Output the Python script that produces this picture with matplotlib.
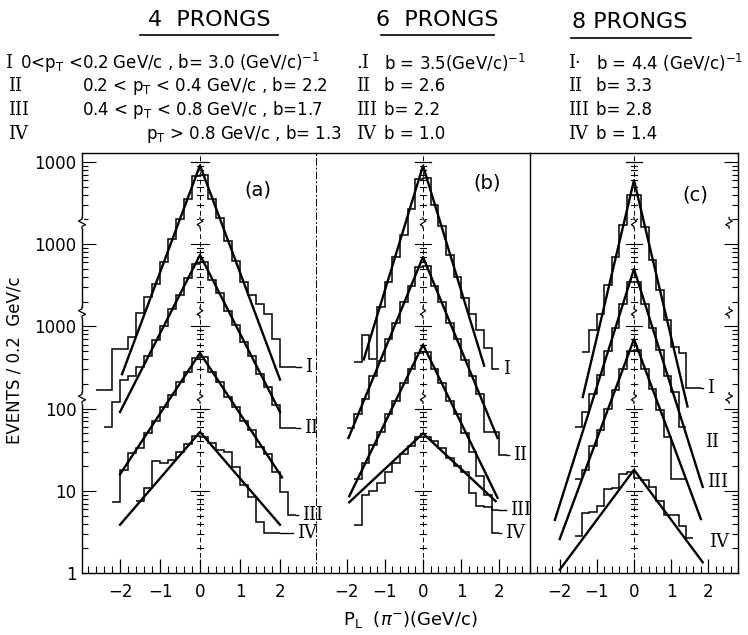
import numpy as np
import matplotlib
matplotlib.use('Agg')
import matplotlib.pyplot as plt
from matplotlib.ticker import FixedLocator, LogLocator, NullFormatter
from matplotlib.lines import Line2D

plt.rcParams['font.family'] = ['DejaVu Sans']
plt.rcParams['mathtext.fontset'] = 'dejavusans'

classes = ['I', 'II', 'III', 'IV']
panel_tags = ['(a)', '(b)', '(c)']

# fitted slopes b in (GeV/c)^-1, p_T classes I..IV
slope_4 = [3.0, 2.2, 1.7, 1.3]
slope_6 = [3.5, 2.6, 2.2, 1.0]
slope_8 = [4.4, 3.3, 2.8, 1.4]

# fitted height at p_L = 0 (stacked scale as plotted)
peak_4 = [91000, 7400, 475, 52]
peak_6 = [90000, 7000, 600, 50]
peak_8 = [60000, 5000, 700, 18]

# p_L range of each fitted line
reach_4 = [(-1.95, 2.0), (-2.0, 2.0), (-2.0, 2.05), (-2.0, 2.0)]
reach_6 = [(-1.55, 1.6), (-1.95, 1.95), (-1.93, 1.95), (-1.93, 1.9)]
reach_8 = [(-1.38, 1.44), (-2.13, 1.85), (-2.0, 1.8), (-2.0, 1.85)]

# histograms: first bin edge, then events per 0.2 GeV/c bin (stacked scale)
start_4 = [-2.6, -2.4, -2.2, -1.6]
hist_4 = [
    [168, 168, 530, 530, 745, 1450, 2300, 3300, 6000, 11500, 20000, 36000, 68000,
     70000, 36000, 21000, 11000, 6300, 3500, 2400, 1900, 1400, 700, 320, 320],
    [60, 120, 220, 250, 320, 440, 680, 1000, 1650, 2400, 3900, 5800,
     6000, 3700, 2550, 1550, 1050, 640, 440, 265, 185, 110, 58, 58],
    [7.3, 18, 29, 33, 50, 70, 105, 145, 210, 280, 410,
     420, 280, 210, 140, 105, 70, 55, 34, 28, 17, 9.6, 5.1],
    [7.5, 10.8, 23, 22, 24, 30, 37, 47,
     45, 38, 31, 30, 19.5, 11.8, 8.4, 4.2, 3.1, 3.1],
]
start_6 = [-1.8, -2.0, -1.8, -1.8]
hist_6 = [
    [370, 790, 400, 1700, 3500, 7000, 13000, 27000, 62000,
     64000, 30000, 16500, 7500, 4000, 2200, 1400, 900, 550, 300],
    [58, 85, 130, 250, 380, 700, 1100, 2000, 3100, 5300,
     5500, 3100, 2000, 1100, 700, 390, 250, 150, 52, 52, 27],
    [14, 22, 36, 52, 85, 125, 205, 300, 470,
     490, 300, 205, 125, 85, 50, 30, 15, 9, 5.8],
    [3.8, 9, 10, 12.5, 17, 22, 28, 35, 45,
     45, 40, 33, 25, 20, 17, 9.5, 6.5, 6.3, 3.1],
]
start_8 = [-1.4, -1.6, -1.6, -1.6]
hist_8 = [
    [490, 900, 1400, 3200, 7000, 17000, 40000,
     40000, 16000, 6500, 2800, 1200, 560, 480, 177, 177],
    [60, 90, 150, 260, 500, 950, 1850, 3500,
     3500, 1900, 950, 520, 250, 160, 60],
    [14, 18, 35, 55, 100, 170, 300, 500,
     520, 300, 175, 95, 45, 14, 14],
    [2.8, 5.4, 5.5, 6.5, 10.5, 10.8, 16, 17,
     14.5, 13.5, 11, 7.5, 5.1, 5.1, 3.7, 2.7],
]

panels = [
    (slope_4, peak_4, reach_4, start_4, hist_4),
    (slope_6, peak_6, reach_6, start_6, hist_6),
    (slope_8, peak_8, reach_8, start_8, hist_8),
]

# where the class labels sit, and whether a lead line joins them
tag_pos = [
    [(2.62, 320), (2.6, 58), (2.55, 5.1), (2.42, 3.1)],
    [(2.1, 300), (2.35, 27), (2.28, 5.8), (2.15, 3.1)],
    [(1.97, 177), (1.9, 39), (1.98, 12.8), (2.02, 2.4)],
]
tag_lead = [[True, True, True, True], [True, True, True, True], [True, False, False, False]]

W, H = 748, 635
fig = plt.figure(figsize=(W / 100, H / 100), dpi=100)
top_px, bot_px = 153, 573
edges_px = [82, 316, 530, 738]
xlims = [(-2.95, 2.9), (-2.58, 2.58), (-2.71, 2.56)]
breaks = [10 ** 2.13, 10 ** 3.17, 10 ** 4.26]

axes = []
for i in range(3):
    ax = fig.add_axes([edges_px[i] / W, 1 - bot_px / H,
                       (edges_px[i + 1] - edges_px[i]) / W, (bot_px - top_px) / H],
                      sharey=axes[0] if axes else None)
    ax.set_facecolor('none')
    axes.append(ax)

ax0 = axes[0]
ax0.set_yscale('log')
ax0.set_ylim(1, 10 ** 5.11)
ax0.yaxis.set_major_locator(FixedLocator([1, 10, 100, 1e3, 1e4, 1e5]))
ax0.yaxis.set_minor_locator(LogLocator(base=10, subs=np.arange(2, 10)))
ax0.yaxis.set_minor_formatter(NullFormatter())
ax0.set_yticklabels(['1', '10', '100', '1000', '1000', '1000'])


def zigzag(ax, x, v, dx):
    f = 10 ** 0.022
    ax.plot([x, x], [v / f ** 2, v * f ** 2], color='white', lw=2.5, clip_on=False, zorder=5)
    ax.plot([x, x, x - dx, x + dx, x, x], [v / f ** 3, v / f ** 2, v / f, v * f, v * f ** 2, v * f ** 3],
            color='k', lw=0.9, clip_on=False, zorder=6)


for i, ax in enumerate(axes):
    slope, peak, reach, start, hist = panels[i]
    ax.set_xlim(*xlims[i])
    ax.set_xticks([-2, -1, 0, 1, 2])
    ax.set_xticks(np.arange(-2.8, 2.81, 0.2), minor=True)
    ax.tick_params(axis='x', which='both', direction='in', top=False, labelsize=12, pad=7)
    ax.tick_params(axis='x', which='major', length=10, width=0.9)
    ax.tick_params(axis='x', which='minor', length=5, width=0.8)
    ax.tick_params(axis='y', which='both', direction='in', width=0.8, labelsize=12, pad=4)
    ax.tick_params(axis='y', which='major', length=10)
    ax.tick_params(axis='y', which='minor', length=4)
    for s in ax.spines.values():
        s.set_linewidth(1.0)

    # centre scale at p_L = 0
    ax.axvline(0, color='k', lw=0.7, ls=(0, (5, 3)))
    for n in range(0, 5):
        for m in range(1, 10):
            v = m * 10 ** n
            w = 0.22 if (m == 1 and n > 0) else 0.07
            ax.plot([-w, w], [v, v], color='k', lw=0.8)
    ax.plot([-0.22, 0.22], [1e5, 1e5], color='k', lw=0.9)
    for v in breaks:
        zigzag(ax, 0, v, 0.07)

    for k in range(4):
        edges = start[k] + 0.2 * np.arange(len(hist[k]) + 1)
        ax.stairs(hist[k], edges, baseline=None, color='k', lw=1.1)
        xs = np.array([reach[k][0], 0.0, reach[k][1]])
        ax.plot(xs, peak[k] * np.exp(-slope[k] * np.abs(xs)), color='k', lw=1.7)
        tx, ty = tag_pos[i][k]
        if tag_lead[i][k]:
            ax.plot([edges[-1], tx - 0.1], [hist[k][-1]] * 2, color='k', lw=1.0)
        ax.text(tx, ty, classes[k], family='DejaVu Serif', fontsize=13, va='center', ha='left')

axes[0].spines['right'].set_visible(False)
axes[1].spines['left'].set_linestyle((0, (7, 3, 1, 3)))
axes[1].spines['left'].set_linewidth(0.7)
axes[1].spines['right'].set_visible(False)
for ax in axes[1:]:
    ax.tick_params(axis='y', which='both', left=False, labelleft=False)
axes[2].tick_params(axis='y', which='both', right=True, labelright=False)

for v in breaks:
    zigzag(axes[0], xlims[0][0], v, -0.09)
    zigzag(axes[2], xlims[2][1], v, 0.09)

tag_xy = [(258, 190), (487, 183), (695, 195)]
for i, (px, py) in enumerate(tag_xy):
    fig.text(px / W, 1 - py / H, panel_tags[i], fontsize=14, ha='center', va='center')


# header
def ftext(x, y, s, **kw):
    kw.setdefault('fontsize', 12)
    fig.text(x / W, 1 - y / H, s, va='center', **kw)


pt = r'$\mathrm{p}_{\mathrm{T}}$'
inv = r'(GeV/c)$^{-1}$'
ftext(209, 20, '4  PRONGS', ha='center', fontsize=16)
ftext(437, 20, '6  PRONGS', ha='center', fontsize=16)
ftext(630, 22, '8 PRONGS', ha='center', fontsize=16)
for (x0, x1, y) in [(140, 278, 35), (381, 494, 35), (571, 691, 38)]:
    fig.add_artist(Line2D([x0 / W, x1 / W], [1 - y / H] * 2, color='k', lw=1.2))

roman = {'family': 'DejaVu Serif', 'fontsize': 13}
rows_y = [63, 86, 110, 134]
ftext(5, rows_y[0], 'I', **roman)
ftext(20, rows_y[0], '0<' + pt + ' <0.2 GeV/c , b= 3.0 ' + inv)
ftext(8, rows_y[1], 'II', **roman)
ftext(82, rows_y[1], '0.2 < ' + pt + ' < 0.4 GeV/c , b= 2.2')
ftext(8, rows_y[2], 'III', **roman)
ftext(82, rows_y[2], '0.4 < ' + pt + ' < 0.8 GeV/c , b=1.7')
ftext(8, rows_y[3], 'IV', **roman)
ftext(146, rows_y[3], pt + ' > 0.8 GeV/c , b= 1.3')

six = ['b = 3.5' + inv, 'b = 2.6', 'b= 2.2', 'b = 1.0']
eight = ['b = 4.4 ' + inv, 'b= 3.3', 'b= 2.8', 'b = 1.4']
six_num = ['.I', 'II', 'III', 'IV']
eight_num = ['I·', 'II', 'III', 'IV']
for r in range(4):
    ftext(356, rows_y[r], six_num[r], **roman)
    ftext(384, rows_y[r], six[r])
    ftext(568, rows_y[r], eight_num[r], **roman)
    ftext(596, rows_y[r], eight[r])

fig.text(15 / W, 1 - 360 / H, 'EVENTS / 0.2  GeV/c', rotation=90, fontsize=12,
         ha='center', va='center')
fig.text(410 / W, 1 - 620 / H, r'$\mathrm{P_L}$  ($\pi^{-}$)(GeV/c)', fontsize=13,
         ha='center', va='center')

fig.savefig('out.png', dpi=100)
